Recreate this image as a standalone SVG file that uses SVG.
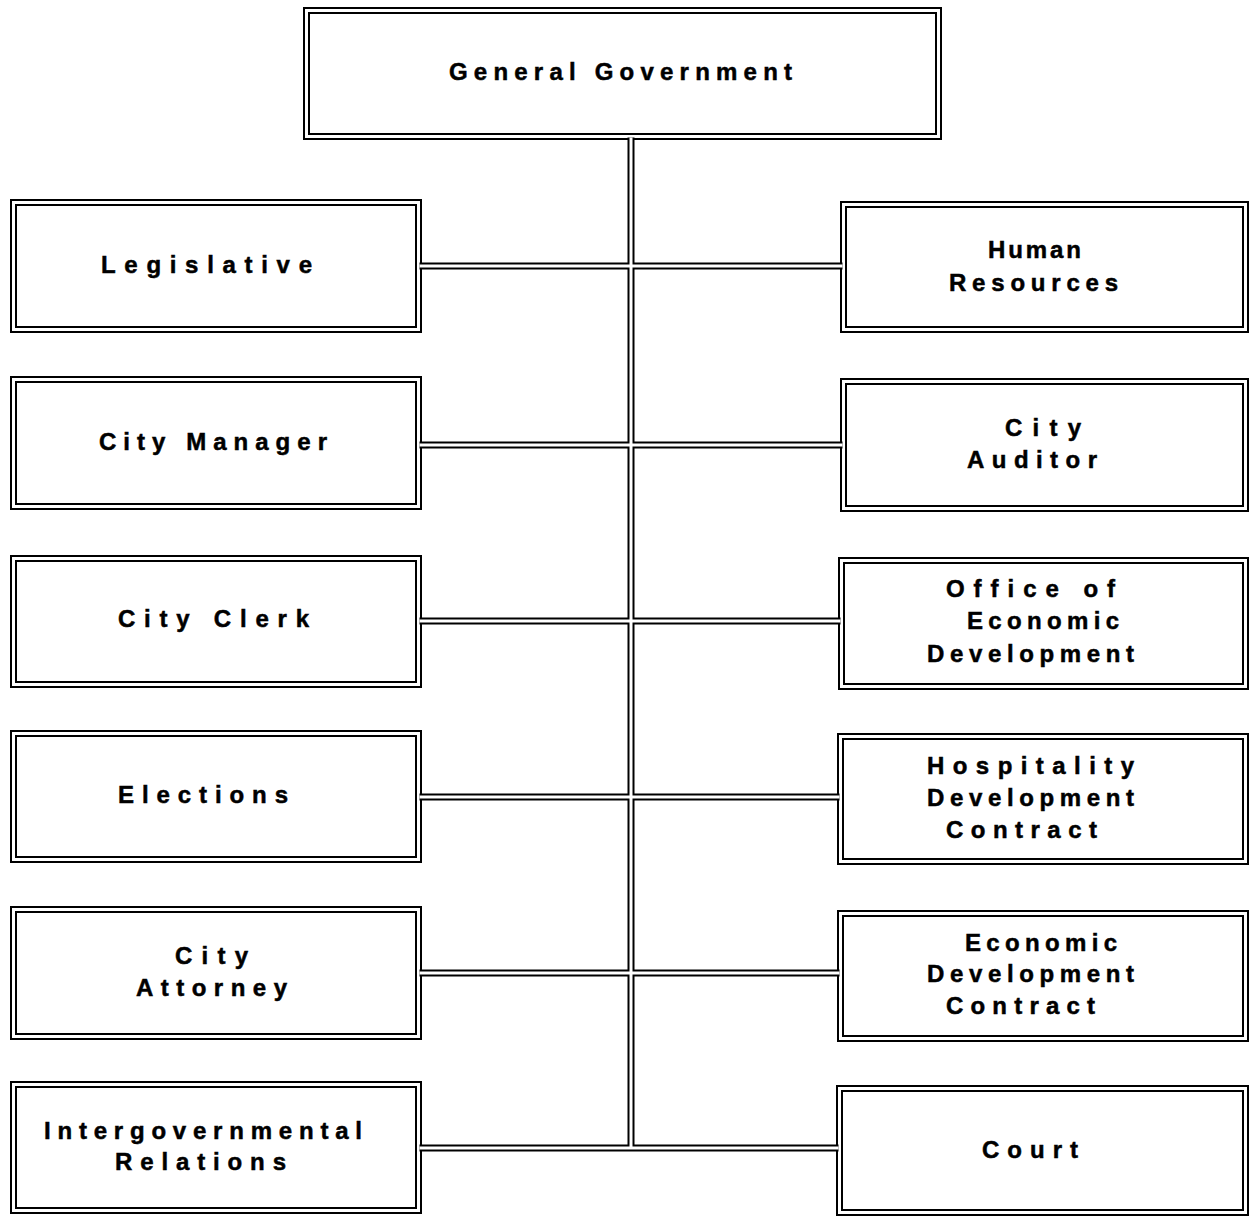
<svg xmlns="http://www.w3.org/2000/svg" width="1251" height="1216" viewBox="0 0 1251 1216">
  <style>
    .outer { fill: #fff; stroke: #000; stroke-width: 2; }
    .inner { fill: none; stroke: #000; stroke-width: 2; }
    .lbl { font-family: "Liberation Sans", Arial, sans-serif; font-weight: bold; font-size: 24px; fill: #000; stroke: #000; stroke-width: 0.5; }
    .wire-dark { fill: none; stroke: #000; stroke-width: 7; }
    .wire-light { fill: none; stroke: #fff; stroke-width: 3; }
  </style>
  <defs>
    <!-- one path for the whole tree; drawn twice (wide black, narrow white) to give a double line -->
    <path id="tree" d="M631 137.5 V1148
      M419.5 266 H842.5
      M419.5 445 H842.5
      M419.5 621 H840.5
      M419.5 797 H839.5
      M419.5 973 H839.5
      M419.5 1148 H838.5"/>
  </defs>

  <rect width="1251" height="1216" fill="#fff"/>

  <!-- top node -->
  <g id="general-government">
    <rect class="outer" x="304" y="8" width="637" height="131"/>
    <rect class="inner" x="309" y="13" width="627" height="121"/>
    <text class="lbl" x="449" y="80" textLength="343" lengthAdjust="spacing">General Government</text>
  </g>

  <!-- left column -->
  <g id="legislative">
    <rect class="outer" x="11" y="200" width="410" height="132"/>
    <rect class="inner" x="16" y="205" width="400" height="122"/>
    <text class="lbl" x="101" y="273" textLength="211" lengthAdjust="spacing">Legislative</text>
  </g>
  <g id="city-manager">
    <rect class="outer" x="11" y="377" width="410" height="132"/>
    <rect class="inner" x="16" y="382" width="400" height="122"/>
    <text class="lbl" x="99" y="450" textLength="228" lengthAdjust="spacing">City Manager</text>
  </g>
  <g id="city-clerk">
    <rect class="outer" x="11" y="556" width="410" height="131"/>
    <rect class="inner" x="16" y="561" width="400" height="121"/>
    <text class="lbl" x="118" y="627" textLength="191" lengthAdjust="spacing">City Clerk</text>
  </g>
  <g id="elections">
    <rect class="outer" x="11" y="731" width="410" height="131"/>
    <rect class="inner" x="16" y="736" width="400" height="121"/>
    <text class="lbl" x="118" y="803" textLength="170" lengthAdjust="spacing">Elections</text>
  </g>
  <g id="city-attorney">
    <rect class="outer" x="11" y="907" width="410" height="132"/>
    <rect class="inner" x="16" y="912" width="400" height="122"/>
    <text class="lbl" x="175" y="964" textLength="73" lengthAdjust="spacing">City</text>
    <text class="lbl" x="136" y="996" textLength="151" lengthAdjust="spacing">Attorney</text>
  </g>
  <g id="intergovernmental-relations">
    <rect class="outer" x="11" y="1082" width="410" height="131"/>
    <rect class="inner" x="16" y="1087" width="400" height="121"/>
    <text class="lbl" x="44" y="1139" textLength="318" lengthAdjust="spacing">Intergovernmental</text>
    <text class="lbl" x="115" y="1170" textLength="171" lengthAdjust="spacing">Relations</text>
  </g>

  <!-- right column -->
  <g id="human-resources">
    <rect class="outer" x="841" y="202" width="407" height="130"/>
    <rect class="inner" x="846" y="207" width="397" height="120"/>
    <text class="lbl" x="988" y="258" textLength="93" lengthAdjust="spacing">Human</text>
    <text class="lbl" x="949" y="291" textLength="169" lengthAdjust="spacing">Resources</text>
  </g>
  <g id="city-auditor">
    <rect class="outer" x="841" y="379" width="407" height="132"/>
    <rect class="inner" x="846" y="384" width="397" height="122"/>
    <text class="lbl" x="1005" y="436" textLength="76" lengthAdjust="spacing">City</text>
    <text class="lbl" x="967" y="468" textLength="130" lengthAdjust="spacing">Auditor</text>
  </g>
  <g id="office-of-economic-development">
    <rect class="outer" x="839" y="558" width="409" height="131"/>
    <rect class="inner" x="844" y="563" width="399" height="121"/>
    <text class="lbl" x="946" y="597" textLength="169" lengthAdjust="spacing">Office of</text>
    <text class="lbl" x="967" y="629" textLength="152" lengthAdjust="spacing">Economic</text>
    <text class="lbl" x="927" y="662" textLength="207" lengthAdjust="spacing">Development</text>
  </g>
  <g id="hospitality-development-contract">
    <rect class="outer" x="838" y="734" width="410" height="130"/>
    <rect class="inner" x="843" y="739" width="400" height="120"/>
    <text class="lbl" x="927" y="774" textLength="207" lengthAdjust="spacing">Hospitality</text>
    <text class="lbl" x="927" y="806" textLength="207" lengthAdjust="spacing">Development</text>
    <text class="lbl" x="946" y="838" textLength="151" lengthAdjust="spacing">Contract</text>
  </g>
  <g id="economic-development-contract">
    <rect class="outer" x="838" y="911" width="410" height="130"/>
    <rect class="inner" x="843" y="916" width="400" height="120"/>
    <text class="lbl" x="965" y="951" textLength="152" lengthAdjust="spacing">Economic</text>
    <text class="lbl" x="927" y="982" textLength="207" lengthAdjust="spacing">Development</text>
    <text class="lbl" x="946" y="1014" textLength="149" lengthAdjust="spacing">Contract</text>
  </g>
  <g id="court">
    <rect class="outer" x="837" y="1086" width="411" height="129"/>
    <rect class="inner" x="842" y="1091" width="401" height="119"/>
    <text class="lbl" x="982" y="1158" textLength="96" lengthAdjust="spacing">Court</text>
  </g>

  <!-- connectors -->
  <g id="connectors">
    <use href="#tree" class="wire-dark"/>
    <use href="#tree" class="wire-light"/>
  </g>
</svg>
